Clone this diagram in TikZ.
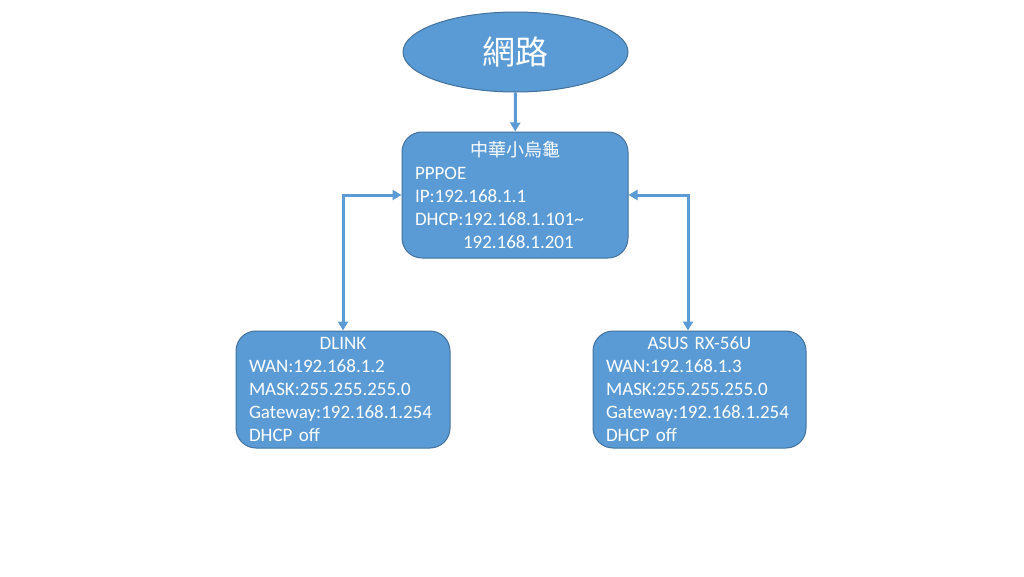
\documentclass[tikz,border=0pt]{standalone}
\usepackage{fontspec}
\setmainfont{Carlito}
\newfontfamily\cjk{Noto Sans CJK TC}
\usetikzlibrary{arrows.meta, shapes.geometric}
\definecolor{netfill}{HTML}{5B9BD5}
\definecolor{netline}{HTML}{41719C}
\newcommand{\boxtitle}[1]{\makebox[\hsize][c]{#1}}
\tikzset{
  cloud/.style  = {ellipse, draw=netline, fill=netfill, line width=1pt, text=white,
                   font=\cjk\fontsize{33}{36}\selectfont, inner sep=0pt},
  router/.style = {rectangle, rounded corners=20pt, draw=netline, fill=netfill, line width=1pt,
                   text=white, align=left, font=\fontsize{19}{23}\selectfont,
                   inner xsep=13pt, inner ysep=0pt},
  flow/.style   = {{Triangle[length=9pt, width=10pt]}-{Triangle[length=9pt, width=10pt]},
                   line width=3pt, draw=netfill},
  down/.style   = {-{Triangle[length=9pt, width=10pt]}, line width=3pt, draw=netfill},
}
\begin{document}
\begin{tikzpicture}[x=1pt, y=-1pt]
	\useasboundingbox[fill=white] (0,0) rectangle (1024,576);
	\node[cloud, minimum width=225pt, minimum height=80pt] (net) at (515.5,52) {網路};
	\node[router, text width=200pt, minimum height=126pt] (cht) at (515,195)
	  {\boxtitle{\cjk\fontsize{18}{23}\selectfont 中華小烏龜}\\PPPOE\\IP:192.168.1.1\\DHCP:192.168.1.101\textasciitilde\\\hspace*{48pt}192.168.1.201};
	\node[router, text width=188pt, minimum height=117pt] (dlink) at (343,389.5)
	  {\boxtitle{DLINK}\\WAN:192.168.1.2\\MASK:255.255.255.0\\Gateway:192.168.1.254\\DHCP off};
	\node[router, text width=187pt, minimum height=117pt] (asus) at (699.5,389.5)
	  {\boxtitle{ASUS RX-56U}\\WAN:192.168.1.3\\MASK:255.255.255.0\\Gateway:192.168.1.254\\DHCP off};
	\draw[down] (net) -- (cht);
	\draw[flow] (cht.west) -| (dlink.north);
	\draw[flow] (cht.east) -| ([xshift=-11.5pt]asus.north);
\end{tikzpicture}
\end{document}
